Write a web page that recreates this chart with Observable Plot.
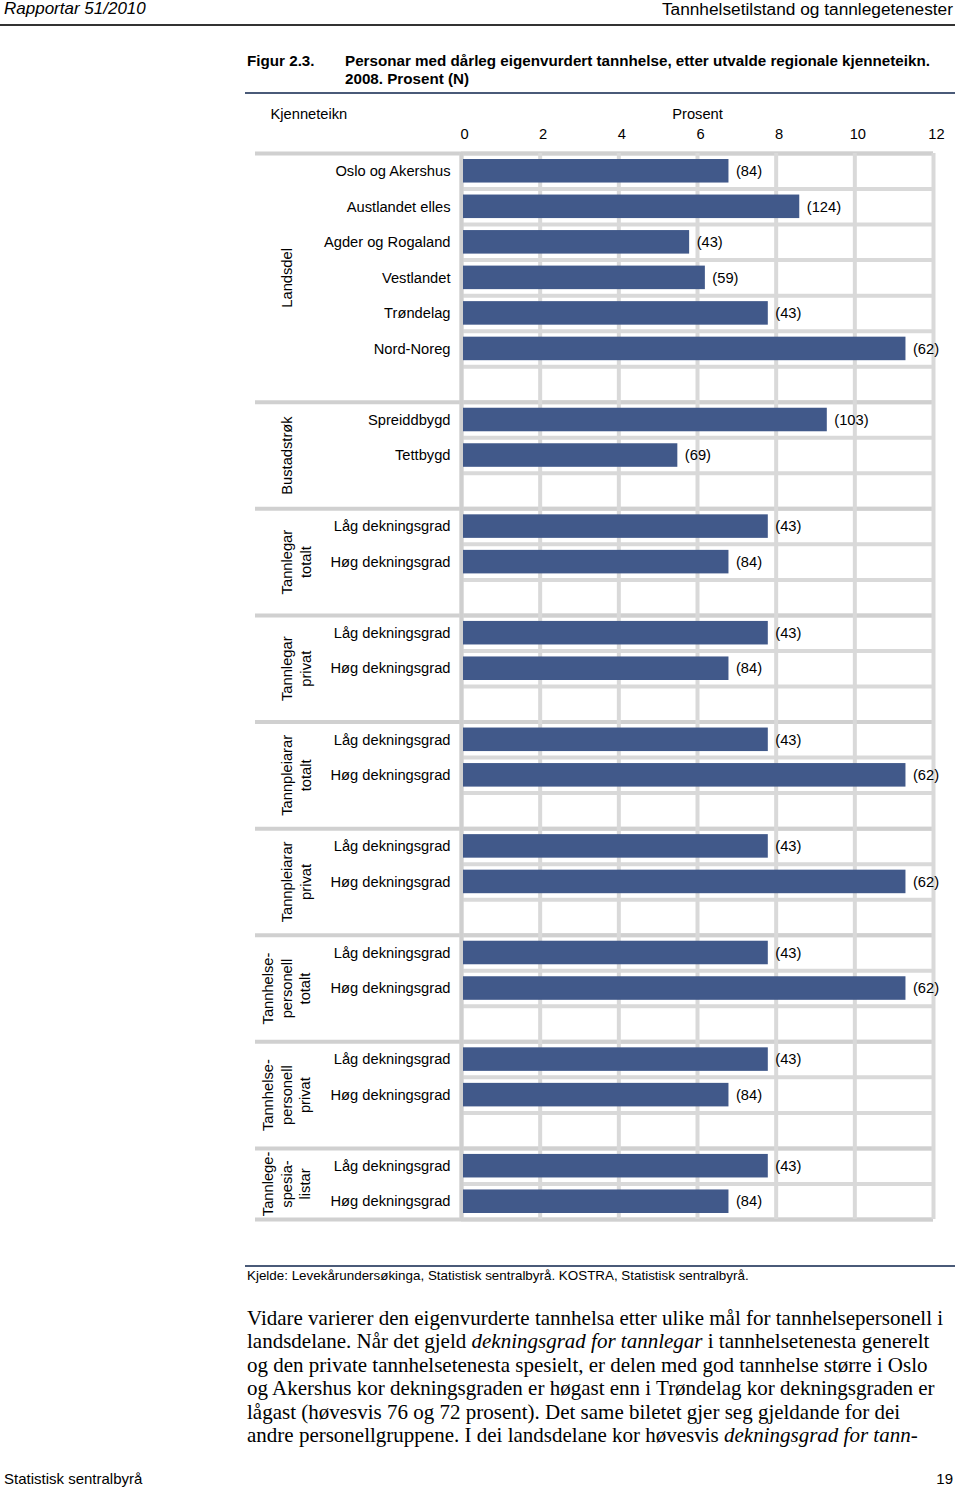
<!DOCTYPE html>
<html>
<head>
<meta charset="utf-8">
<script src="https://cdn.jsdelivr.net/npm/d3@7"></script>
<script src="https://cdn.jsdelivr.net/npm/@observablehq/plot@0.6"></script>
<style>
  html, body { margin: 0; padding: 0; background: #fff; }
  #page { position: relative; width: 960px; height: 1489px; overflow: hidden; font-family: "Liberation Sans", Arial, sans-serif; color: #000; }
  .abs { position: absolute; white-space: nowrap; }
  .rule { position: absolute; }
  #chart { position: absolute; left: 0; top: 100px; }
  #body { position: absolute; left: 247px; top: 1307px; font-family: "Liberation Serif", "Times New Roman", serif; font-size: 21px; line-height: 23.4px; white-space: nowrap; }
</style>
</head>
<body>
<div id="page">
  <div class="abs" style="left:4px; top:-1px; font-size:17px; line-height:20px; font-style:italic;">Rapportar 51/2010</div>
  <div class="abs" style="right:7px; top:-1px; font-size:17.3px; line-height:20px;">Tannhelsetilstand og tannlegetenester</div>
  <div class="rule" style="left:0; top:24px; width:955px; height:2px; background:#333;"></div>

  <div class="abs" style="left:247px; top:52px; font-size:15.2px; line-height:18px; font-weight:bold;">Figur 2.3.</div>
  <div class="abs" style="left:345px; top:52px; font-size:15.2px; line-height:18px; font-weight:bold;">Personar med dårleg eigenvurdert tannhelse, etter utvalde regionale kjenneteikn.<br>2008. Prosent (N)</div>
  <div class="rule" style="left:245px; top:92px; width:710px; height:2px; background:#4a5a78;"></div>

  <div id="chart"></div>

  <div class="rule" style="left:245px; top:1265px; width:710px; height:2px; background:#4a5a78;"></div>
  <div class="abs" style="left:247px; top:1268px; font-size:13.4px; line-height:16px;">Kjelde: Levekårundersøkinga, Statistisk sentralbyrå. KOSTRA, Statistisk sentralbyrå.</div>

  <div id="body">
    Vidare varierer den eigenvurderte tannhelsa etter ulike mål for tannhelsepersonell i<br>
    landsdelane. Når det gjeld <i>dekningsgrad for tannlegar</i> i tannhelsetenesta generelt<br>
    og den private tannhelsetenesta spesielt, er delen med god tannhelse større i Oslo<br>
    og Akershus kor dekningsgraden er høgast enn i Trøndelag kor dekningsgraden er<br>
    lågast (høvesvis 76 og 72 prosent). Det same biletet gjer seg gjeldande for dei<br>
    andre personellgruppene. I dei landsdelane kor høvesvis <i>dekningsgrad for tann-</i>
  </div>

  <div class="abs" style="left:4px; top:1470px; font-size:15px; line-height:18px;">Statistisk sentralbyrå</div>
  <div class="abs" style="right:7px; top:1470px; font-size:15px; line-height:18px;">19</div>
</div>

<script>
// ---- Data ----
const groupTitles = [
  "Landsdel",
  "Bustadstrøk",
  "Tannlegar\ntotalt",
  "Tannlegar\nprivat",
  "Tannpleiarar\ntotalt",
  "Tannpleiarar\nprivat",
  "Tannhelse-\npersonell\ntotalt",
  "Tannhelse-\npersonell\nprivat",
  "Tannlege-\nspesia-\nlistar"
];
const categories = [
  "Oslo og Akershus", "Austlandet elles", "Agder og Rogaland", "Vestlandet", "Trøndelag", "Nord-Noreg",
  "Spreiddbygd", "Tettbygd",
  "Låg dekningsgrad", "Høg dekningsgrad",
  "Låg dekningsgrad", "Høg dekningsgrad",
  "Låg dekningsgrad", "Høg dekningsgrad",
  "Låg dekningsgrad", "Høg dekningsgrad",
  "Låg dekningsgrad", "Høg dekningsgrad",
  "Låg dekningsgrad", "Høg dekningsgrad",
  "Låg dekningsgrad", "Høg dekningsgrad"
];
const categoryGroup = [0,0,0,0,0,0, 1,1, 2,2, 3,3, 4,4, 5,5, 6,6, 7,7, 8,8];
const values = [
  6.8, 8.6, 5.8, 6.2, 7.8, 11.3,
  9.3, 5.5,
  7.8, 6.8,
  7.8, 6.8,
  7.8, 11.3,
  7.8, 11.3,
  7.8, 11.3,
  7.8, 6.8,
  7.8, 6.8
];
const counts = [
  "(84)", "(124)", "(43)", "(59)", "(43)", "(62)",
  "(103)", "(69)",
  "(43)", "(84)",
  "(43)", "(84)",
  "(43)", "(62)",
  "(43)", "(62)",
  "(43)", "(62)",
  "(43)", "(84)",
  "(43)", "(84)"
];
const xTicks = [0, 2, 4, 6, 8, 10, 12];
const xDomain = [0, 12];

// ---- Build rows (one blank row after each group except the last) ----
const rows = [];
const groups = groupTitles.map(title => ({title, lines: title.split("\n").length, start: null, end: null}));
let r = 0;
categories.forEach((c, i) => {
  const g = categoryGroup[i];
  if (i > 0 && categoryGroup[i - 1] !== g) r += 1; // blank row
  if (groups[g].start === null) groups[g].start = (g === 0 ? 0 : groups[g - 1].end);
  rows.push({category: c, value: values[i], n: counts[i], row: r});
  r += 1;
  groups[g].end = r + (g < groupTitles.length - 1 ? 1 : 0);
});
const totalRows = groups[groups.length - 1].end;
const boundaries = [0, ...groups.map(g => g.end)];

const grid = "#d9d9d9";
const fs = 14.7;
const lh = 1.28;
const groupText = (n, dx) => Plot.text(groups, {
  filter: d => d.lines === n, frameAnchor: "left", y: d => (d.start + d.end) / 2, text: "title",
  rotate: -90, textAnchor: "middle", lineAnchor: "middle", lineHeight: lh, dx
});
const chart = Plot.plot({
  width: 960,
  height: 1125,
  marginLeft: 461,
  marginRight: 27,
  marginTop: 53,
  marginBottom: 6,
  style: {fontFamily: "'Liberation Sans', Arial, sans-serif", fontSize: fs + "px", color: "#000", background: "transparent"},
  x: {domain: xDomain, label: null},
  y: {domain: [0, totalRows], reverse: true, axis: null},
  marks: [
    // row gridlines
    Plot.ruleY(d3.range(0, totalRows + 1), {stroke: grid, strokeWidth: 4}),
    // group separators extending into the label area
    Plot.ruleY(boundaries, {stroke: "#d0d0d0", strokeWidth: 4, insetLeft: -206}),
    // vertical gridlines
    Plot.ruleX(xTicks, {stroke: grid, strokeWidth: 4}),
    Plot.ruleX([xDomain[0]], {stroke: "#cfcfcf", strokeWidth: 4}),
    // bars
    Plot.rect(rows, {x1: 0, x2: "value", y1: "row", y2: d => d.row + 1, fill: "#41598a", insetTop: 6, insetBottom: 6, insetLeft: 2}),
    // value labels (N)
    Plot.text(rows, {x: "value", y: d => d.row + 0.5, text: "n", textAnchor: "start", dx: 7}),
    // category labels
    Plot.text(rows, {frameAnchor: "left", y: d => d.row + 0.5, text: "category", textAnchor: "end", dx: -11}),
    // group labels (rotated)
    groupText(1, -176),
    groupText(2, -166),
    groupText(3, -176),
    // axis
    Plot.axisX(xTicks, {anchor: "top", tickSize: 0, tickPadding: 15, label: null, dx: 3}),
    Plot.text(["Prosent"], {frameAnchor: "top", dy: -39, lineAnchor: "middle"}),
    Plot.text(["Kjenneteikn"], {frameAnchor: "top-left", dx: -191, dy: -39, lineAnchor: "middle", textAnchor: "start"})
  ]
});
document.getElementById("chart").appendChild(chart);
</script>
</body>
</html>
